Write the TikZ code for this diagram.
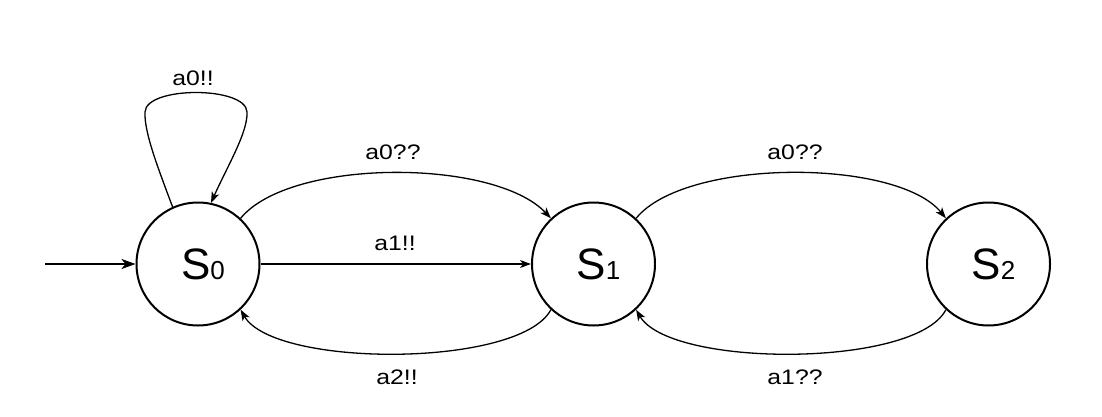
\documentclass[tikz,border=0pt]{standalone}
\usepackage{fontspec}
\setmainfont{Liberation Sans}
\newfontfamily\lblfont[FakeStretch=1.18]{Liberation Sans}
\usetikzlibrary{arrows.meta}
\newcommand{\stlbl}[1]{\hspace*{10pt}{\fontsize{44}{44}\selectfont S}{\fontsize{26}{26}\selectfont #1}}
\tikzset{
  statenode/.style={circle, draw, line width=2pt, minimum size=123pt, inner sep=0pt},
  edgeline/.style={line width=1.3pt, -{Stealth[length=11pt,width=8pt,inset=3pt]}},
  initline/.style={line width=2pt, -{Stealth[length=14pt,width=10pt,inset=4pt]}},
  lbl/.style={inner sep=0pt, font=\lblfont\fontsize{21}{21}\selectfont}
}
\begin{document}
\begin{tikzpicture}[x=1pt,y=-1pt]
\useasboundingbox (0,0) rectangle (1102,417);
\node[statenode] (s0) at (198,264) {\stlbl{0}};
\node[statenode] (s1) at (593.5,264) {\stlbl{1}};
\node[statenode] (s2) at (988.5,264) {\stlbl{2}};
\coordinate (init) at (45,264);
\draw[initline] (init) -- (s0.west);
% self loop
\draw[edgeline] (s0.114) .. controls (158,168) and (144,132) .. (145,112)
  .. controls (146,86) and (246,86) .. (247,112)
  .. controls (248,132) and (228,165) .. (s0.78);
% S0 -> S1 a0??
\draw[edgeline] (s0.47) .. controls (290,158) and (494,158) .. (s1.133);
% S0 -> S1 a1!!
\draw[edgeline] (s0.east) -- (s1.west);
% S1 -> S0 a2!!
\draw[edgeline] (s1.227) .. controls (520,368) and (274,368) .. (s0.313);
% S1 -> S2 a0??
\draw[edgeline] (s1.47) .. controls (685,158) and (897,158) .. (s2.133);
% S2 -> S1 a1??
\draw[edgeline] (s2.227) .. controls (916,368) and (670,368) .. (s1.313);
% labels
\node[lbl] (l00) at (193,78) {a0!!};
\node[lbl] (l01) at (393,152) {a0??};
\node[lbl] (l02) at (395,243) {a1!!};
\node[lbl] (l03) at (397,377) {a2!!};
\node[lbl] (l04) at (795,152) {a0??};
\node[lbl] (l05) at (795,377) {a1??};
\end{tikzpicture}
\end{document}
